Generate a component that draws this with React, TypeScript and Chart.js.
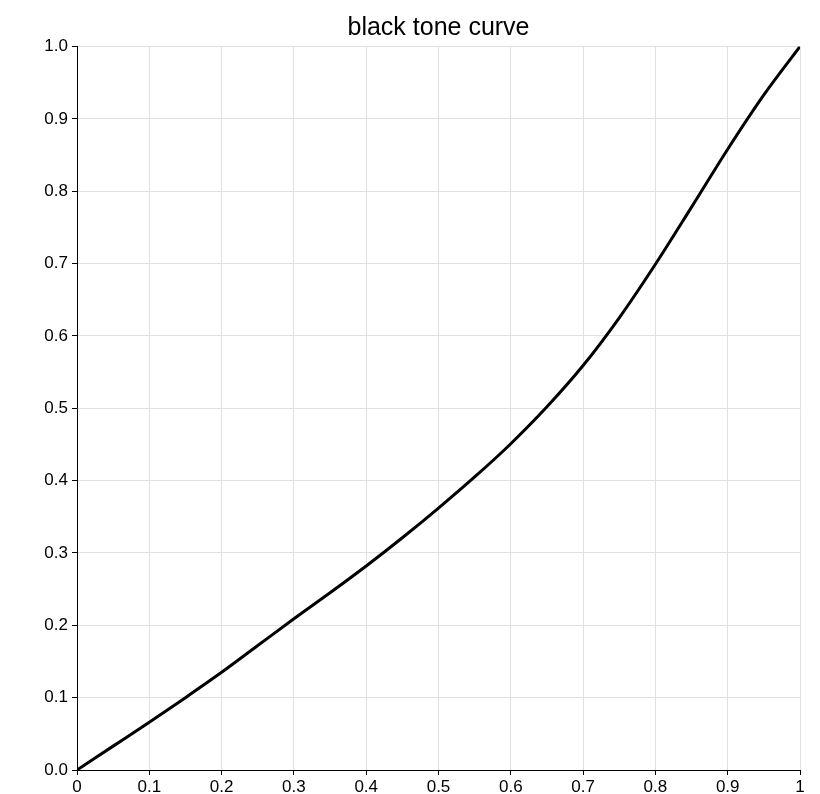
import React, { useEffect, useRef } from "react";
import { Chart, registerables } from "chart.js";

Chart.register(...registerables);

const TITLE = "black tone curve";
const inputLevels = [0, 0.05, 0.1, 0.15, 0.2, 0.25, 0.3, 0.35, 0.4, 0.45, 0.5, 0.55, 0.6, 0.65, 0.7, 0.75, 0.8, 0.85, 0.9, 0.95, 1];
const outputLevels = [0, 0.033, 0.066, 0.1, 0.135, 0.172, 0.209, 0.245, 0.282, 0.321, 0.362, 0.405, 0.451, 0.502, 0.559, 0.625, 0.699, 0.778, 0.858, 0.933, 1];

const FONT = "'Liberation Sans', Arial, Helvetica, sans-serif";

export default function App() {
  const ref = useRef<HTMLCanvasElement | null>(null);

  useEffect(() => {
    document.body.style.margin = "0";
    const canvas = ref.current;
    if (!canvas) return;
    const points = inputLevels.map((x, i) => ({ x, y: outputLevels[i] }));
    const chart = new Chart(canvas, {
      type: "scatter",
      data: {
        datasets: [
          {
            data: points,
            showLine: true,
            borderColor: "#000",
            borderWidth: 3,
            pointRadius: 0,
            cubicInterpolationMode: "monotone",
            fill: false,
          } as any,
        ],
      },
      options: {
        animation: false,
        responsive: false,
        maintainAspectRatio: false,
        layout: { padding: { left: 0, right: 20, top: 0, bottom: 0 } },
        plugins: {
          legend: { display: false },
          tooltip: { enabled: false },
          title: {
            display: true,
            fullSize: false,
            text: TITLE,
            color: "#000",
            font: { family: FONT, size: 25, weight: "normal", lineHeight: 1.2 },
            padding: { top: 13, bottom: 3.5 },
          },
        },
        scales: {
          x: {
            type: "linear",
            min: 0,
            max: 1,
            afterFit: (s: any) => {
              s.height = 24;
            },
            ticks: {
              stepSize: 0.1,
              color: "#000",
              padding: 2,
              maxRotation: 0,
              font: { family: FONT, size: 17 },
              callback: (v: any) => {
                const n = Math.round(Number(v) * 10) / 10;
                return String(n);
              },
            },
            grid: { color: "#e0e0e0", tickColor: "#000", tickLength: 5, lineWidth: 1 },
            border: { color: "#000", width: 1 },
          },
          y: {
            type: "linear",
            min: 0,
            max: 1,
            afterFit: (s: any) => {
              s.width = 77;
            },
            ticks: {
              stepSize: 0.1,
              color: "#000",
              padding: 4,
              font: { family: FONT, size: 17 },
              callback: (v: any) => Number(v).toFixed(1),
            },
            grid: { color: "#e0e0e0", tickColor: "#000", tickLength: 5, lineWidth: 1 },
            border: { color: "#000", width: 1 },
          },
        },
      },
    });
    return () => chart.destroy();
  }, []);

  return (
    <div style={{ position: "absolute", left: 0, top: 0, width: 820, height: 794 }}>
      <canvas ref={ref} width={820} height={794} style={{ width: 820, height: 794 }} />
    </div>
  );
}
